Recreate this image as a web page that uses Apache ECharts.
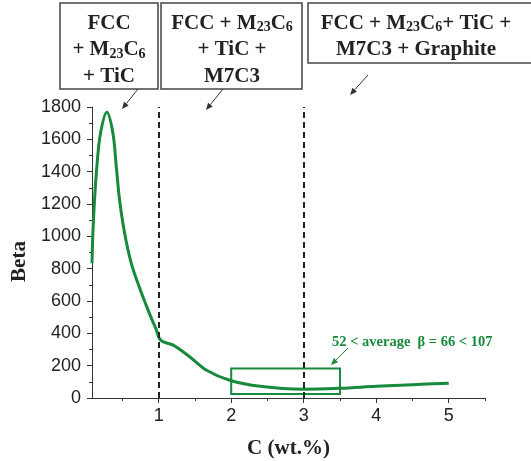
<!DOCTYPE html>
<html>
<head>
<meta charset="utf-8">
<script src="https://cdn.jsdelivr.net/npm/echarts@6/dist/echarts.min.js"></script>
<style>
  html, body { margin: 0; padding: 0; background: #fff; }
  #chart { width: 531px; height: 461px; }
</style>
</head>
<body>
<div id="chart"></div>
<script>
// carbon content (wt.%) and beta
const carbon = [0.08, 0.092, 0.115, 0.147, 0.198, 0.285, 0.368, 0.415, 0.46, 0.53, 0.622, 0.737, 0.852, 0.968, 1.03,
                1.2, 1.43, 1.66, 1.98, 2.4, 3.0, 3.5, 4.0, 4.5, 5.0];
const beta = [833, 1019, 1226, 1432, 1639, 1767, 1639, 1432, 1226, 1019, 833, 680, 545, 420, 356,
              327, 254, 172, 110, 72, 54, 60, 72, 82, 92];

const phaseBounds = [1, 3];          // dashed vertical lines
const avgBox = [2, 3.5, 25, 182];    // x0, x1, y0, y1
const xMajor = [1, 2, 3, 4, 5];
const xMinor = [0.5, 1.5, 2.5, 3.5, 4.5, 5.5];

const green = '#178a3c';
const serif = '"Liberation Serif", "Times New Roman", serif';
const sans = '"Liberation Sans", Arial, sans-serif';

const chart = echarts.init(document.getElementById('chart'));

// small helper: arrow = line + triangle head
function arrow(x1, y1, x2, y2, color) {
    const ang = Math.atan2(y2 - y1, x2 - x1);
    const len = 7, w = 3;
    const bx = x2 - len * Math.cos(ang), by = y2 - len * Math.sin(ang);
    const px = -Math.sin(ang) * w, py = Math.cos(ang) * w;
    return [
        { type: 'line', shape: { x1: x1, y1: y1, x2: bx, y2: by }, style: { stroke: color, lineWidth: 1 } },
        { type: 'polygon', shape: { points: [[x2, y2], [bx + px, by + py], [bx - px, by - py]] }, style: { fill: color } }
    ];
}

const boxText = {
    fontFamily: serif, fontWeight: 'bold', fontSize: 21, lineHeight: 26.5, fill: '#222',
    align: 'center', verticalAlign: 'top',
    rich: {
        n: { fontFamily: serif, fontWeight: 'bold', fontSize: 21, lineHeight: 26.5, color: '#222' },
        s: { fontFamily: serif, fontWeight: 'bold', fontSize: 14, lineHeight: 26.5, color: '#222', verticalAlign: 'bottom', padding: [0, 0, 2, 0] }
    }
};

function box(x, y, w, h, text, cx) {
    return [
        { type: 'rect', shape: { x: x, y: y, width: w, height: h }, style: { fill: '#fff', stroke: '#444', lineWidth: 1.5 } },
        { type: 'text', x: cx, y: y + 7, style: Object.assign({ text: text }, boxText) }
    ];
}

const graphics = [].concat(
    box(60, 3, 98, 86, '{n|FCC}\n{n|+ M}{s|23}{n|C}{s|6}\n{n|+ TiC}', 109),
    box(161, 3, 141, 86, '{n|FCC + M}{s|23}{n|C}{s|6}\n{n|+ TiC +}\n{n|M7C3}', 232),
    box(308, 3, 230, 60, '{n|FCC + M}{s|23}{n|C}{s|6}{n|+ TiC +}\n{n|M7C3 + Graphite}', 416),
    arrow(138, 89, 122, 109, '#333'),
    arrow(223, 89, 206, 110, '#333'),
    arrow(368, 75, 350, 95, '#333'),
    arrow(348, 348, 331, 365, green),
    [{ type: 'text', x: 332, y: 342, style: { text: '52 < average  β = 66 < 107', fontFamily: serif, fontWeight: 'bold', fontSize: 14.5, fill: green, verticalAlign: 'middle' } }]
);

const option = {
    animation: false,
    grid: { left: 92, right: 46, top: 107, bottom: 63, outerBoundsMode: 'none', containLabel: false },
    xAxis: [{
        type: 'value', min: 0.08, max: 5.5,
        name: 'C (wt.%)', nameLocation: 'middle', nameGap: 40,
        nameTextStyle: { fontFamily: serif, fontWeight: 'bold', fontSize: 21, color: '#222' },
        axisLine: { show: true, onZero: false, lineStyle: { color: '#333', width: 1 } },
        axisTick: { show: true, length: 5, customValues: xMajor, lineStyle: { color: '#333' } },
        axisLabel: { customValues: xMajor, fontFamily: sans, fontSize: 18, color: '#222', margin: 9 },
        splitLine: { show: false }
    }, {
        type: 'value', min: 0.08, max: 5.5, position: 'bottom',
        axisLine: { show: false },
        axisTick: { show: true, length: 3, customValues: xMinor, lineStyle: { color: '#333' } },
        axisLabel: { show: false, customValues: xMinor },
        splitLine: { show: false }
    }],
    yAxis: {
        type: 'value', min: 0, max: 1800, interval: 200,
        name: 'Beta', nameLocation: 'middle', nameGap: 45, nameRotate: 90,
        nameTextStyle: { fontFamily: serif, fontWeight: 'bold', fontSize: 21, color: '#222', padding: [0, 18, 0, 0] },
        axisLine: { show: true, lineStyle: { color: '#333', width: 1 } },
        axisTick: { show: true, length: 5, lineStyle: { color: '#333' } },
        minorTick: { show: true, splitNumber: 2, length: 3, lineStyle: { color: '#333' } },
        axisLabel: { fontFamily: sans, fontSize: 18, color: '#222', margin: 11, formatter: v => String(v) },
        splitLine: { show: false }
    },
    series: [{
        type: 'line',
        data: carbon.map((c, i) => [c, beta[i]]),
        smooth: 0.35,
        showSymbol: false,
        lineStyle: { color: green, width: 3 },
        markLine: {
            silent: true, symbol: 'none', label: { show: false },
            lineStyle: { color: '#222', type: [6, 4], width: 2 },
            data: phaseBounds.map(v => ({ xAxis: v }))
        },
        markArea: {
            silent: true,
            itemStyle: { color: 'rgba(0,0,0,0)', borderColor: green, borderWidth: 2 },
            data: [[{ coord: [avgBox[0], avgBox[2]] }, { coord: [avgBox[1], avgBox[3]] }]]
        }
    }],
    graphic: graphics
};

chart.setOption(option);
</script>
</body>
</html>
